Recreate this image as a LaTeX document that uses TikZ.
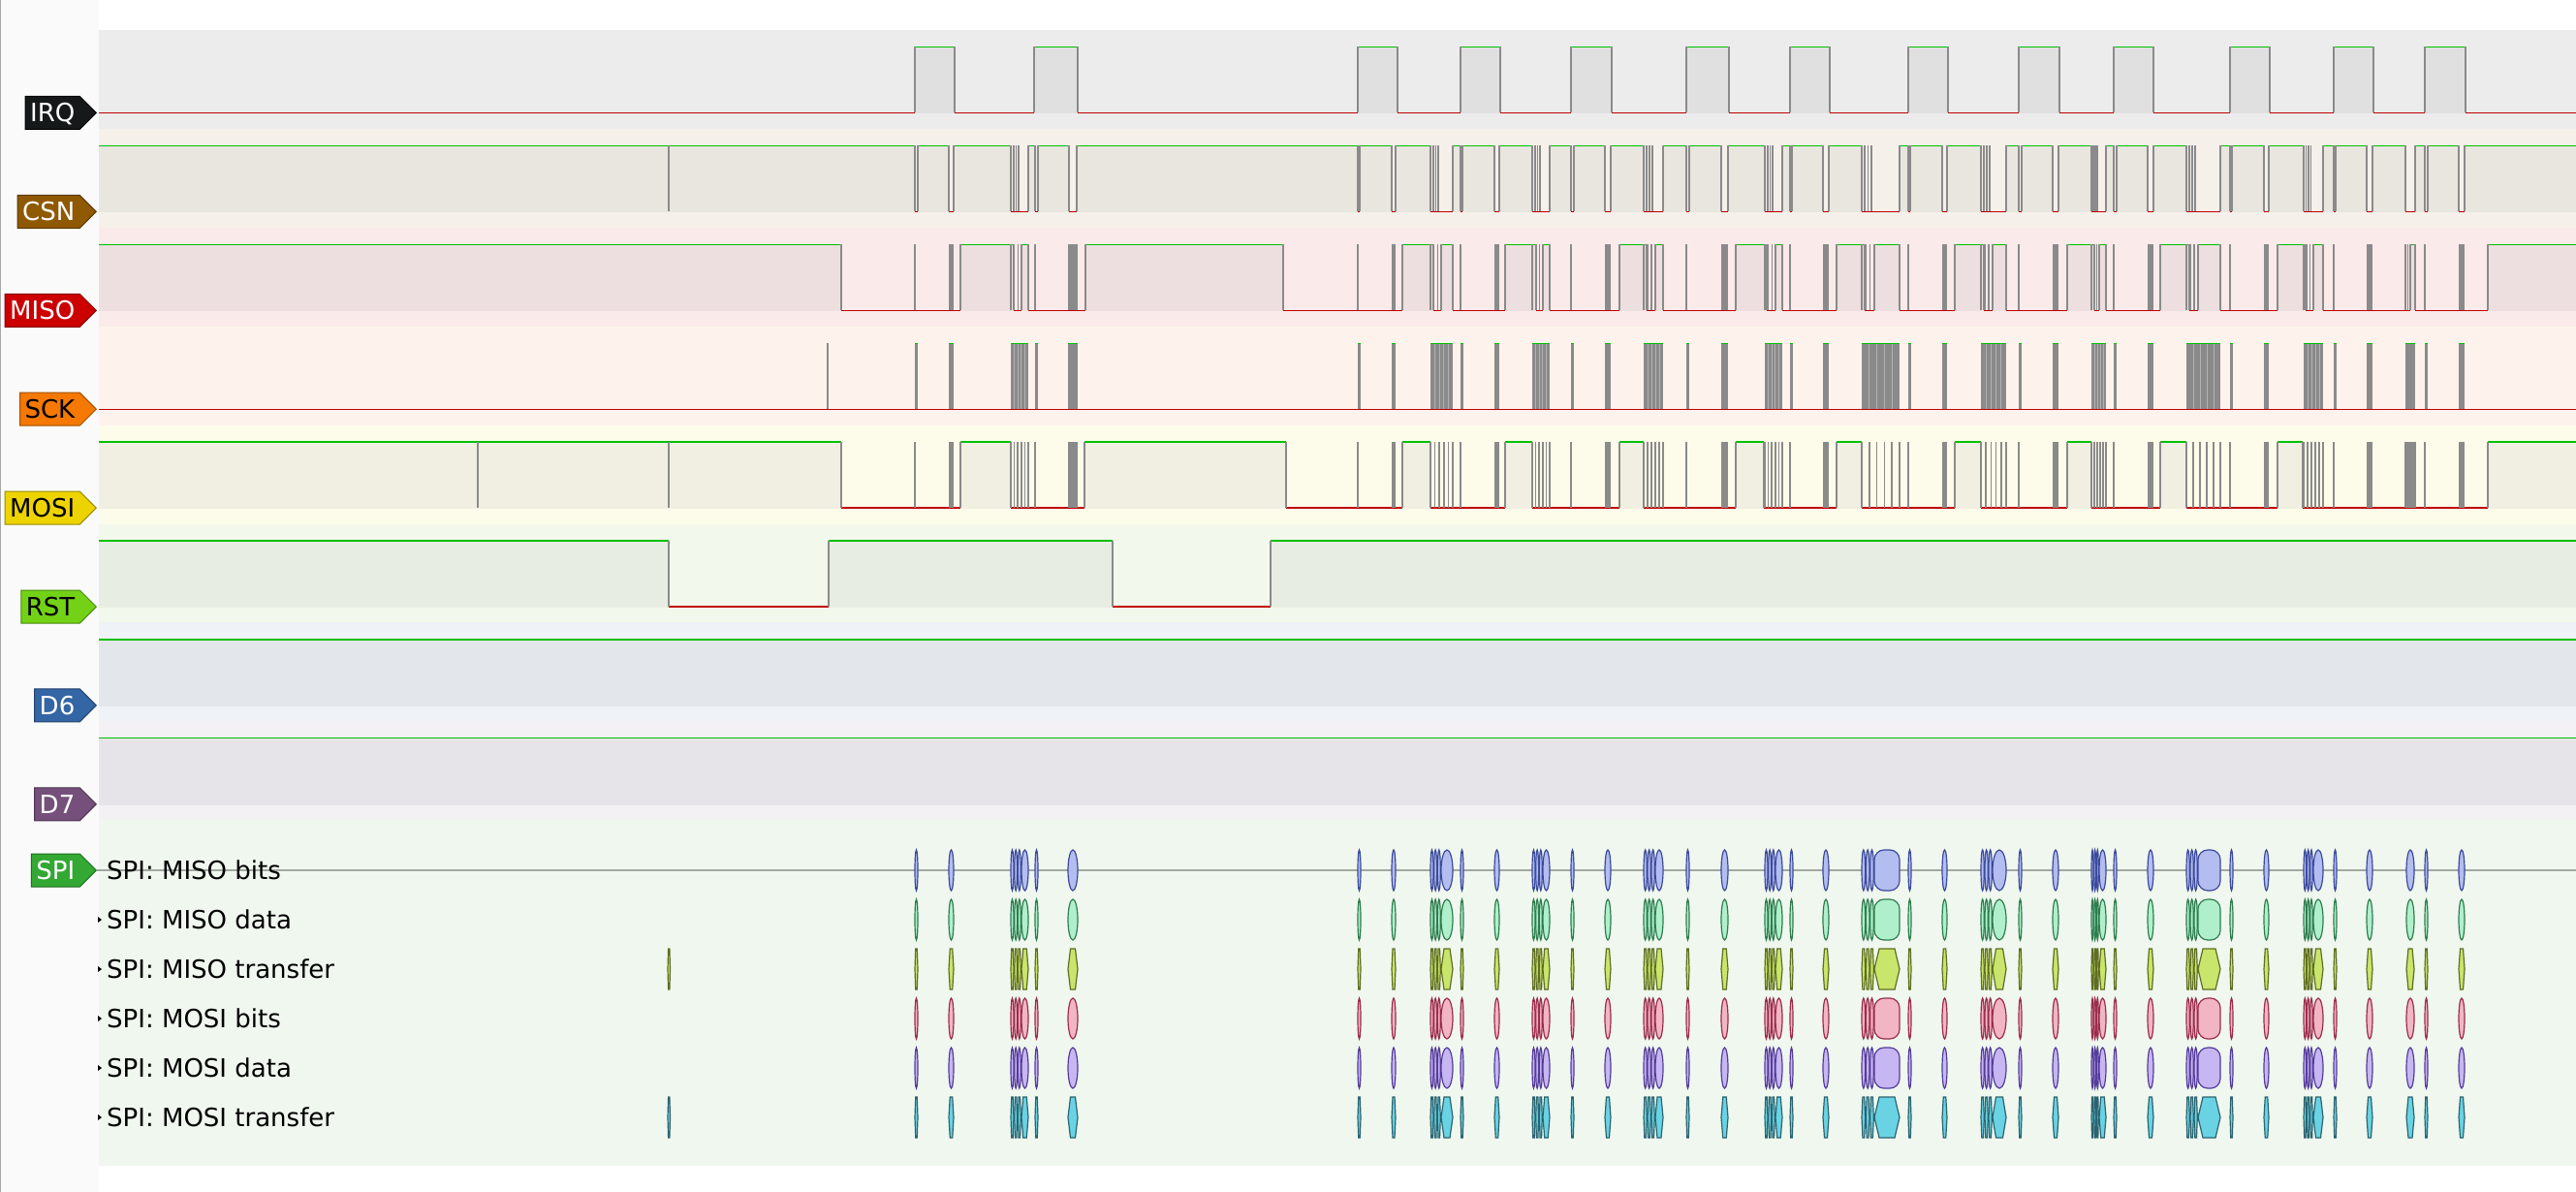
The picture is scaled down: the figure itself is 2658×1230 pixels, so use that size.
\documentclass[tikz,border=0pt]{standalone}
\usepackage{fontspec}
\setmainfont{DejaVu Sans}
\usetikzlibrary{positioning, shapes.symbols}

\definecolor{higreen}{HTML}{00C000}
\definecolor{lored}{HTML}{C00000}
\definecolor{edgegray}{HTML}{8A8A8A}
\definecolor{panelbg}{HTML}{FAFAFA}
\definecolor{panelline}{HTML}{A8A8A8}
\definecolor{decline}{HTML}{A0A8A0}
\definecolor{irqband}{HTML}{ECECEC}\definecolor{irqhigh}{HTML}{E0E0E0}
\definecolor{csnband}{HTML}{F5F0EA}\definecolor{csnhigh}{HTML}{E9E5DF}
\definecolor{misoband}{HTML}{FBEAEA}\definecolor{misohigh}{HTML}{EDDFDF}
\definecolor{sckband}{HTML}{FDF3EC}
\definecolor{mosiband}{HTML}{FDFCEB}\definecolor{mosihigh}{HTML}{F0EFE1}
\definecolor{rstband}{HTML}{F3F8EC}\definecolor{rsthigh}{HTML}{E7EDE2}
\definecolor{dsixband}{HTML}{EFF2F6}\definecolor{dsixhigh}{HTML}{E3E6EB}
\definecolor{dsevenband}{HTML}{F3F1F4}\definecolor{dsevenhigh}{HTML}{E6E4E8}
\definecolor{spiband}{HTML}{EFF7EE}
\definecolor{irqtag}{HTML}{16191A}\definecolor{irqtagline}{HTML}{000000}
\definecolor{csntag}{HTML}{8F5902}\definecolor{csntagline}{HTML}{5C3900}
\definecolor{misotag}{HTML}{CC0000}\definecolor{misotagline}{HTML}{880000}
\definecolor{scktag}{HTML}{F57900}\definecolor{scktagline}{HTML}{A04F00}
\definecolor{mositag}{HTML}{EDD400}\definecolor{mositagline}{HTML}{9A8A00}
\definecolor{rsttag}{HTML}{73D216}\definecolor{rsttagline}{HTML}{4A8A0E}
\definecolor{dsixtag}{HTML}{3465A4}\definecolor{dsixtagline}{HTML}{22426B}
\definecolor{dseventag}{HTML}{75507B}\definecolor{dseventagline}{HTML}{4C3450}
\definecolor{spitag}{HTML}{33A833}\definecolor{spitagline}{HTML}{1E6E1E}
\definecolor{misobitsfill}{HTML}{B4BDF0}\definecolor{misobitsdraw}{HTML}{3C4A9C}
\definecolor{misodatafill}{HTML}{B0EFCC}\definecolor{misodatadraw}{HTML}{2F7D4F}
\definecolor{misoxferfill}{HTML}{C9E56B}\definecolor{misoxferdraw}{HTML}{5F6E22}
\definecolor{mosibitsfill}{HTML}{F2B5C4}\definecolor{mosibitsdraw}{HTML}{9A2D4B}
\definecolor{mosidatafill}{HTML}{C6B6F2}\definecolor{mosidatadraw}{HTML}{553C9A}
\definecolor{mosixferfill}{HTML}{69D3E4}\definecolor{mosixferdraw}{HTML}{2B6470}

% SPI transfers: chip select pulse, short transfer, burst (start/wide/end)
\def\thinlist{944,1068,1401,1507,1621,1740,1847,1969,2083,2181,2301,2408,2502}
\def\medlist{979/984,1102/1112,1436/1440,1542/1547,1656/1662,1776/1783,1881/1887,2004/2009,2118/2124,2216/2222,2336/2341,2442/2448,2537/2543}
\def\denselist{1043/1054/1061,1476/1487/1499,1581/1592/1599,1696/1708/1716,1821/1832/1839,1921/1934/1960,2044/2056/2070,2158/2166/2173,2256/2268/2291,2377/2387/2397}

\newcommand{\hilev}[3]{%
  \fill[#1] (#2,0) rectangle (#3,68.8);
  \draw[hi] (#2,0) -- (#3,0);
  \draw[edge] (#2,0) -- (#2,68) (#3,0) -- (#3,68);}
\newcommand{\capsule}[4]{%
  \pgfmathsetmacro{\annw}{(#3)-(#2)}
  \ifdim\annw pt<16pt
    \pgfmathsetmacro{\annhalf}{0.5*\annw}
    \pgfmathsetmacro{\annmid}{0.5*((#2)+(#3))}
    \draw[#1] (\annmid,#4) ellipse [x radius=\annhalf pt, y radius=21pt];
  \else
    \draw[#1, rounded corners=10pt] ({#2},{#4-21}) rectangle ({#3},{#4+21});
  \fi}
\newcommand{\hexa}[4]{%
  \pgfmathsetmacro{\annbev}{min(0.25*((#3)-(#2)),5)}
  \draw[#1] ({#2},{#4}) -- ({#2+\annbev},{#4-21}) -- ({#3-\annbev},{#4-21})
    -- ({#3},{#4}) -- ({#3-\annbev},{#4+21}) -- ({#2+\annbev},{#4+21}) -- cycle;}
\newcommand{\decrow}[3]{%
  \foreach \pr in \thinlist {\pgfmathsetmacro{\qb}{\pr+3}#1{#2}{\pr}{\qb}{#3}}
  \foreach \pa/\pb in \medlist {#1{#2}{\pa}{\pb}{#3}}
  \foreach \pa/\pw/\pb in \denselist {
    \pgfmathsetmacro{\nw}{(\pw-\pa)/3}
    \foreach \k in {0,1,2} {
      \pgfmathsetmacro{\qa}{\pa+\k*\nw}
      \pgfmathsetmacro{\qb}{\qa+\nw-0.7}
      #1{#2}{\qa}{\qb}{#3}}
    #1{#2}{\pw}{\pb}{#3}}
  #1{#2}{2483}{2491}{#3}}

\begin{document}
\begin{tikzpicture}
    [x=1pt, y=-1pt,
    hi/.style={draw=higreen, line width=1.3pt},
    lo/.style={draw=lored, line width=1.3pt},
    edge/.style={draw=edgegray, line width=1.6pt},
    burst/.style={fill=edgegray},
    tag/.style={signal, signal to=east, anchor=east, minimum height=34pt,
      inner xsep=5pt, inner ysep=0pt, line width=1pt, text height=19pt,
      text depth=0pt, font=\fontsize{26}{28}\selectfont},
    dec/.style={anchor=west, inner sep=0pt, text height=19pt, text depth=0pt,
      font=\fontsize{26}{28}\selectfont},
    misobitsann/.style={fill=misobitsfill, draw=misobitsdraw, line width=1.2pt},
    misodataann/.style={fill=misodatafill, draw=misodatadraw, line width=1.2pt},
    misoxferann/.style={fill=misoxferfill, draw=misoxferdraw, line width=1.2pt},
    mosibitsann/.style={fill=mosibitsfill, draw=mosibitsdraw, line width=1.2pt},
    mosidataann/.style={fill=mosidatafill, draw=mosidatadraw, line width=1.2pt},
    mosixferann/.style={fill=mosixferfill, draw=mosixferdraw, line width=1.2pt}]

    \useasboundingbox (0,0) rectangle (2658,1230);
    \fill[white] (0,0) rectangle (2658,1230);

    % row backgrounds
    \foreach \row/\band in {0/irqband,1/csnband,2/misoband,3/sckband,
      4/mosiband,5/rstband,6/dsixband,7/dsevenband}
      \fill[\band] (100,{31+\row*101.9}) rectangle (2660,{31+(\row+1)*101.9});
    \fill[spiband] (100,846.2) rectangle (2660,1203);

    % IRQ
    \begin{scope}[shift={(0,48.5)}]
      \draw[lo] (100,68) -- (2660,68);
      \foreach \pa/\pb in {944/985,1067/1112,1401/1442,1507/1548,1621/1663,
        1740/1784,1847/1888,1969/2010,2083/2125,2181/2222,2301/2342,
        2408/2449,2502/2544}
        {\hilev{irqhigh}{\pa}{\pb}}
    \end{scope}

    % CSN
    \begin{scope}[shift={(0,150.4)}]
      \draw[lo] (100,68) -- (2660,68);
      \foreach \pa/\pb in {100/944,947/979,984/1043,1061/1068,1071/1103,
        1111/1401,1403/1436,1440/1476,1499/1507,1509/1542,1547/1581,
        1599/1621,1624/1656,1662/1696,1716/1740,1743/1776,1783/1821,
        1839/1847,1849/1881,1887/1921,1960/1969,1971/2004,2009/2044,
        2070/2083,2086/2118,2124/2158,2173/2181,2184/2216,2222/2256,
        2291/2301,2303/2336,2341/2377,2397/2408,2410/2442,2448/2482,
        2492/2502,2505/2537,2543/2660}
        {\hilev{csnhigh}{\pa}{\pb}}
      \draw[edge] (690,0) -- (690,68);
      \foreach \pa/\pw/\pb in \denselist
        \foreach \k in {1,2,3} {
          \pgfmathsetmacro{\qa}{\pa+\k*(\pw-\pa)/4}
          \draw[edge] (\qa,0) -- (\qa,68);}
    \end{scope}

    % MISO
    \begin{scope}[shift={(0,252.3)}]
      \draw[lo] (100,68) -- (2660,68);
      \foreach \pa/\pb in {100/868,991/1046,1054/1061,1120/1324,1447/1479,
        1487/1499,1553/1585,1592/1599,1671/1699,1708/1716,1791/1823,
        1832/1839,1895/1924,1934/1960,2017/2047,2056/2070,2133/2161,
        2166/2173,2229/2259,2268/2291,2350/2379,2387/2397,2487/2492,2567/2660}
        {\hilev{misohigh}{\pa}{\pb}}
      \foreach \pr in \thinlist \draw[edge] (\pr,0) -- (\pr,68);
      \foreach \pa/\pb in \medlist \fill[burst] (\pa,0) rectangle (\pb,68);
      \foreach \pa/\pw/\pb in \denselist
        \foreach \k in {0,1,2,3} {
          \pgfmathsetmacro{\qa}{\pa+\k*(\pw-\pa)/3}
          \draw[edge] (\qa,0) -- (\qa,68);}
      \draw[edge] (2482,0) -- (2482,68) (2484.5,0) -- (2484.5,68);
    \end{scope}

    % SCK
    \begin{scope}[shift={(0,354.2)}]
      \draw[lo] (100,68) -- (2660,68);
      \draw[edge] (854,0) -- (854,68);
      \foreach \pr in \thinlist {
        \fill[burst] (\pr,0) rectangle ({\pr+3},68);
        \draw[hi] (\pr,0) -- ({\pr+3},0);}
      \foreach \pa/\pb in {2482/2492} {
        \fill[burst] (\pa,0) rectangle (\pb,68);
        \draw[hi] (\pa,0) -- (\pb,0);}
      \foreach \pa/\pb in \medlist {
        \fill[burst] (\pa,0) rectangle (\pb,68);
        \draw[hi] (\pa,0) -- (\pb,0);}
      \foreach \pa/\pw/\pb in \denselist {
        \fill[burst] (\pa,0) rectangle (\pb,68);
        \foreach \k in {1,2,3,4} {
          \pgfmathsetmacro{\qa}{\pa+\k*(\pb-\pa)/5}
          \draw[white, opacity=.35, line width=.8pt] (\qa,0) -- (\qa,68);}
        \draw[hi] (\pa,0) -- (\pb,0);}
    \end{scope}

    % MOSI
    \begin{scope}[shift={(0,456.1)}]
      \draw[lo] (100,68) -- (2660,68);
      \foreach \pa/\pb in {100/868,991/1043,1119/1327,1447/1476,1553/1581,
        1671/1696,1791/1820,1895/1921,2017/2044,2133/2158,2229/2256,
        2350/2376,2567/2660}
        {\hilev{mosihigh}{\pa}{\pb}}
      \draw[edge] (493,0) -- (493,68) (690,0) -- (690,68);
      \foreach \pr in \thinlist \draw[edge] (\pr,0) -- (\pr,68);
      \foreach \pa/\pb in \medlist \fill[burst] (\pa,0) rectangle (\pb,68);
      \foreach \pa/\pw/\pb in {2482/2487/2492} {
        \foreach \k in {0,...,5} {
          \pgfmathsetmacro{\qa}{\pa+\k*(\pb-\pa)/5}
          \draw[edge] (\qa,0) -- (\qa,68);}}
      \foreach \pa/\pw/\pb in \denselist
        \foreach \k in {0,...,5} {
          \pgfmathsetmacro{\qa}{\pa+\k*(\pb-\pa)/5}
          \draw[edge] (\qa,0) -- (\qa,68);}
    \end{scope}

    % RST, D6, D7
    \begin{scope}[shift={(0,558)}]
      \draw[lo] (100,68) -- (2660,68);
      \foreach \pa/\pb in {100/690,855/1148,1311/2660} {\hilev{rsthigh}{\pa}{\pb}}
    \end{scope}
    \begin{scope}[shift={(0,659.9)}]
      \hilev{dsixhigh}{100}{2660}
    \end{scope}
    \begin{scope}[shift={(0,761.8)}]
      \hilev{dsevenhigh}{100}{2660}
    \end{scope}

    % label column
    \fill[panelbg] (0,0) rectangle (102,1230);
    \draw[panelline, line width=1.2pt] (0.6,0) -- (0.6,1230);

    % SPI decoder rows
    \draw[decline, line width=1.2pt] (100,898) -- (2660,898);
    \decrow{\capsule}{misobitsann}{898}
    \decrow{\capsule}{misodataann}{949}
    \decrow{\hexa}{misoxferann}{1000}
    \decrow{\capsule}{mosibitsann}{1051}
    \decrow{\capsule}{mosidataann}{1102}
    \decrow{\hexa}{mosixferann}{1153}
    \hexa{misoxferann}{689}{691.5}{1000}
    \hexa{mosixferann}{689}{691.5}{1153}

    \node[dec] (miso_bits) at (110,898) {SPI: MISO bits};
    \node[dec] (miso_data) at (110,949) {SPI: MISO data};
    \node[dec] (miso_transfer) at (110,1000) {SPI: MISO transfer};
    \node[dec] (mosi_bits) at (110,1051) {SPI: MOSI bits};
    \node[dec] (mosi_data) at (110,1102) {SPI: MOSI data};
    \node[dec] (mosi_transfer) at (110,1153) {SPI: MOSI transfer};
    \foreach \y in {949,1000,1051,1102,1153}
      \fill[black] (101,\y-3) -- (105,\y) -- (101,\y+3) -- cycle;

    % channel tags
    \node[tag, fill=irqtag, draw=irqtagline, text=white] (irq) at (100,116.5) {IRQ};
    \node[tag, fill=csntag, draw=csntagline, text=white] (csn) at (100,218.4) {CSN};
    \node[tag, fill=misotag, draw=misotagline, text=white] (miso) at (100,320.3) {MISO};
    \node[tag, fill=scktag, draw=scktagline, text=black] (sck) at (100,422.2) {SCK};
    \node[tag, fill=mositag, draw=mositagline, text=black] (mosi) at (100,524.1) {MOSI};
    \node[tag, fill=rsttag, draw=rsttagline, text=black] (rst) at (100,626) {RST};
    \node[tag, fill=dsixtag, draw=dsixtagline, text=white] (d_six) at (100,727.9) {D6};
    \node[tag, fill=dseventag, draw=dseventagline, text=white] (d_seven) at (100,829.8) {D7};
    \node[tag, fill=spitag, draw=spitagline, text=white] (spi) at (100,898) {SPI};
  \end{tikzpicture}
\end{document}
